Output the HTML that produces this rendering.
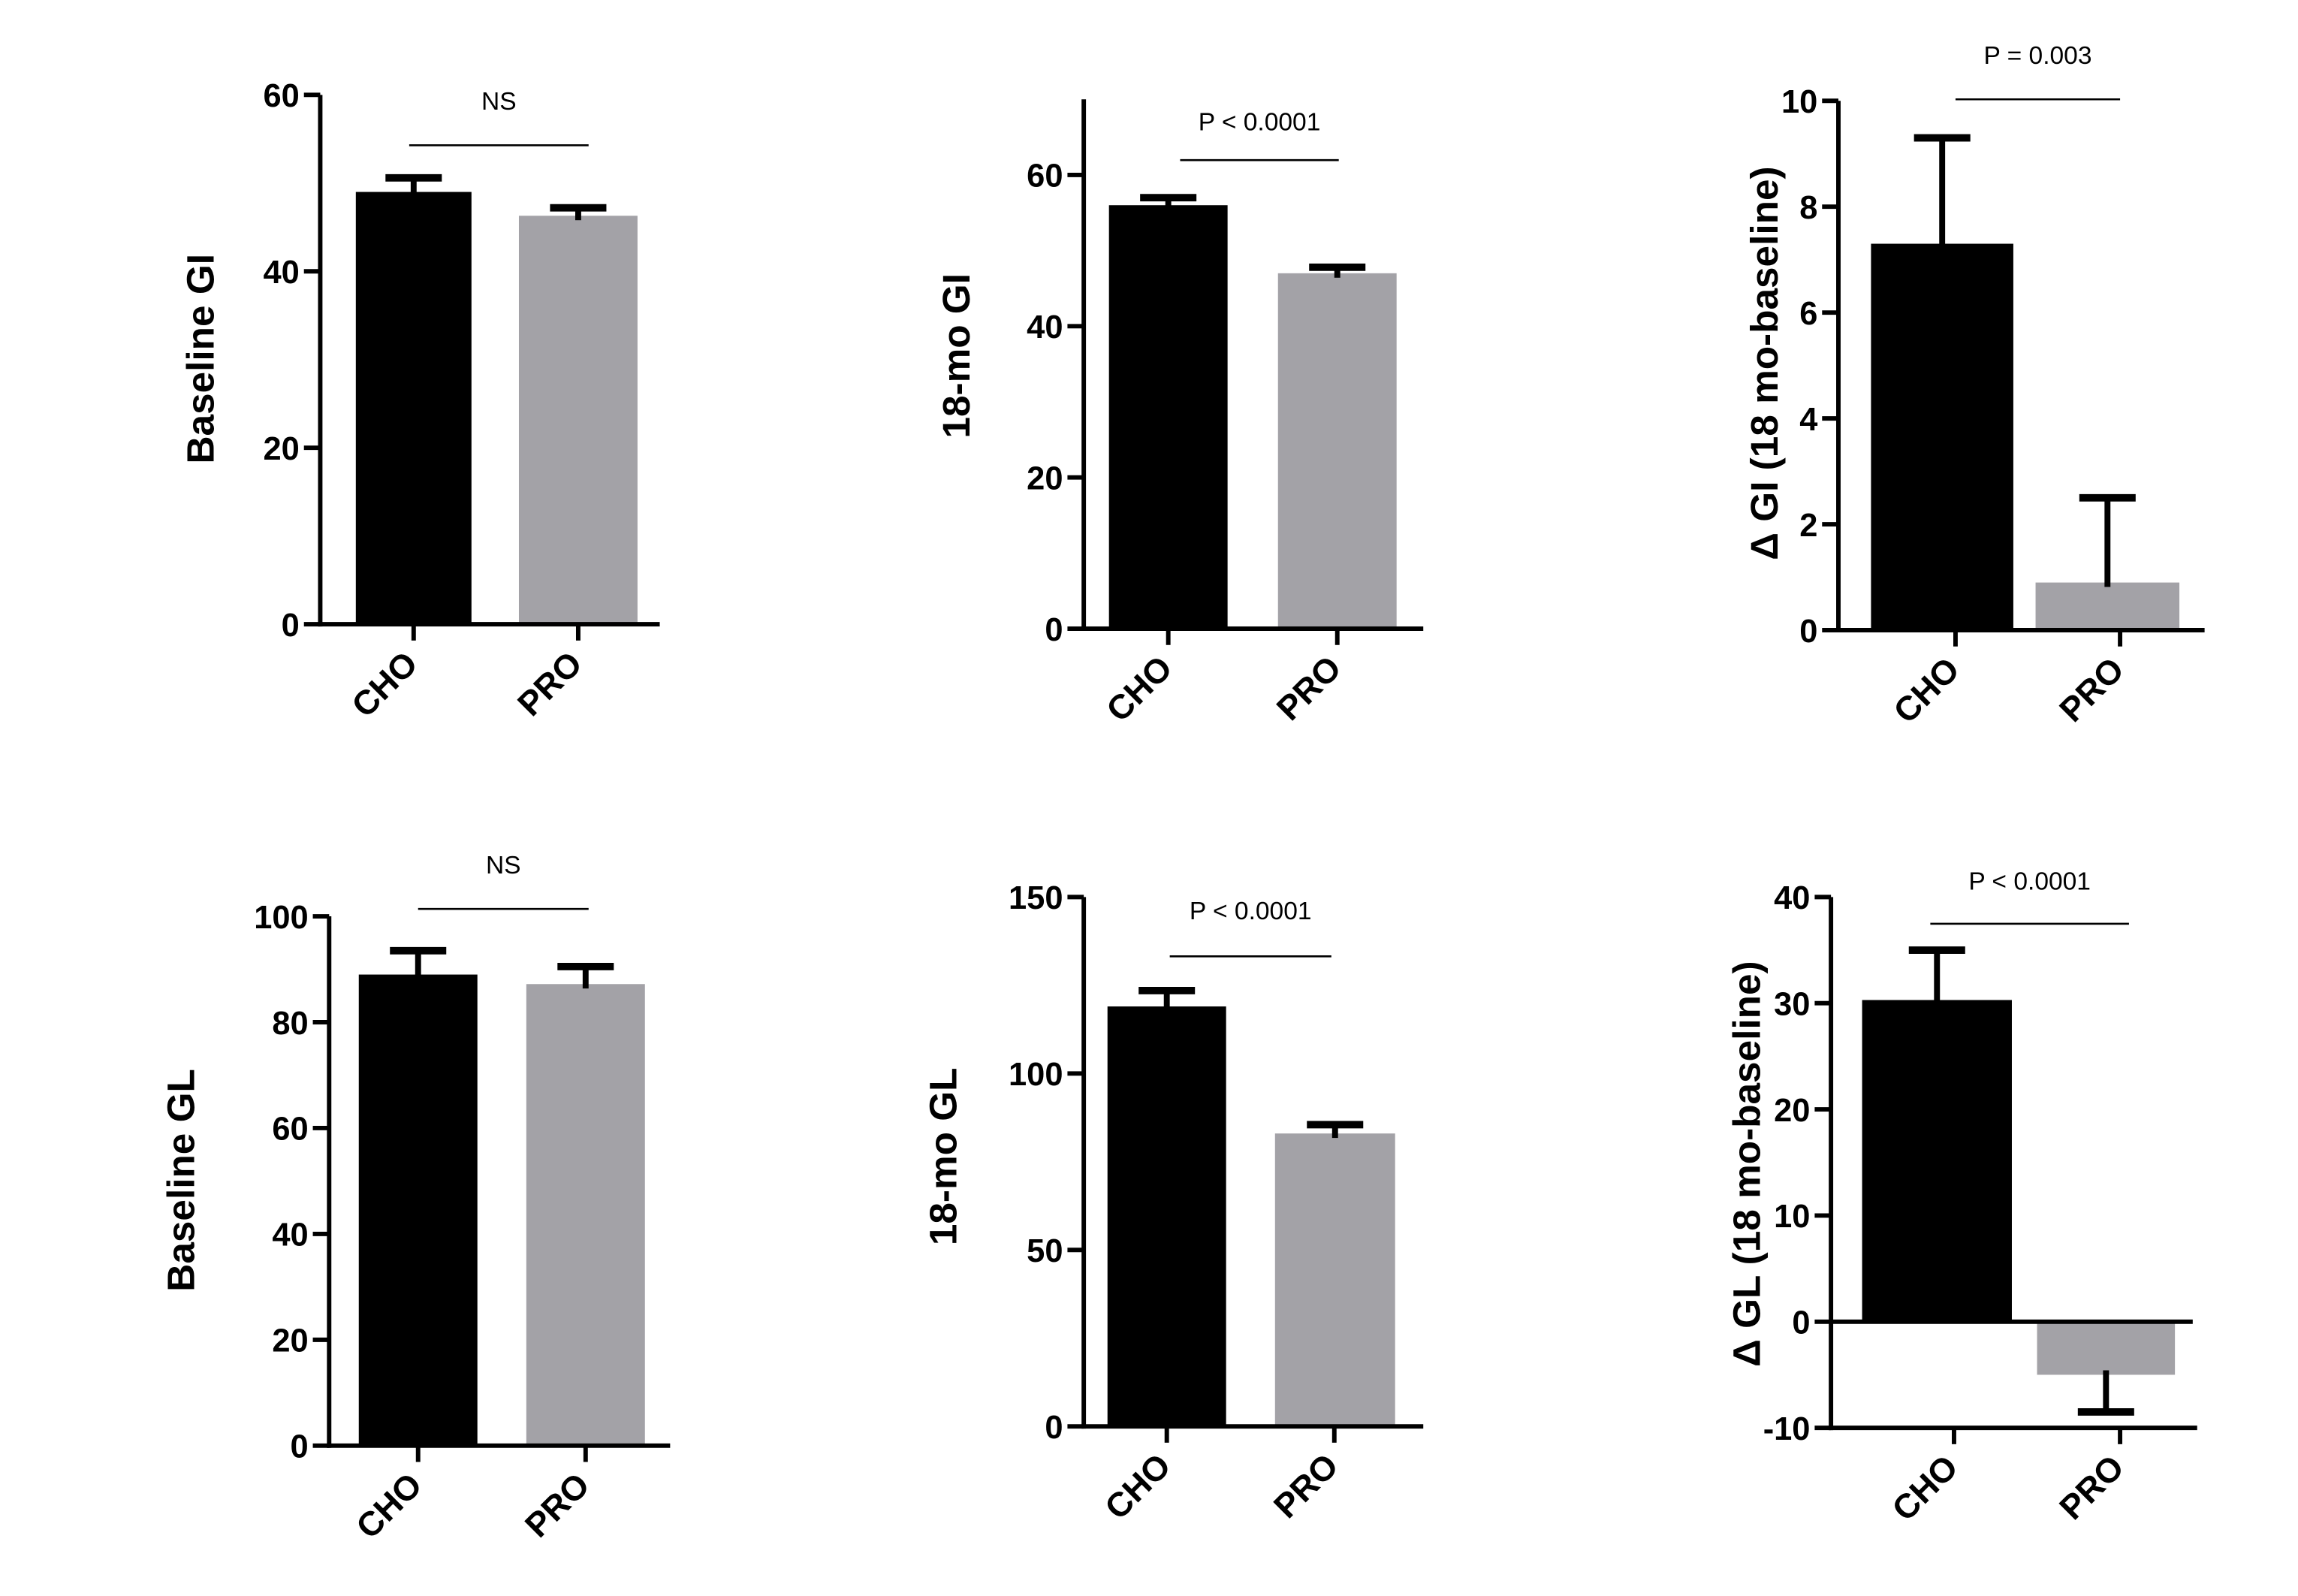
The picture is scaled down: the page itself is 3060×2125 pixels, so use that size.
<!DOCTYPE html>
<html><head><meta charset="utf-8"><style>
html,body{margin:0;padding:0;background:#fff;}
svg{display:block;}
text{font-family:"Liberation Sans",Arial,sans-serif;}
</style></head><body>
<svg id="fig" width="3060" height="2125" viewBox="0 0 1550 1076.4" xmlns="http://www.w3.org/2000/svg"></svg>
<script>
const categories = ["CHO", "PRO"];
const p1Values = [49, 46.3], p1Errors = [1.6, 0.9];
const p2Values = [56, 47], p2Errors = [1.0, 0.8];
const p3Values = [7.3, 0.9], p3Errors = [2.0, 1.6];
const p4Values = [89, 87.2], p4Errors = [4.5, 3.3];
const p5Values = [119, 83], p5Errors = [4.5, 2.5];
const p6Values = [30.3, -5], p6Errors = [4.7, 3.5];
const p1Ticks = [0, 20, 40, 60], p2Ticks = [0, 20, 40, 60], p3Ticks = [0, 2, 4, 6, 8, 10];
const p4Ticks = [0, 20, 40, 60, 80, 100], p5Ticks = [0, 50, 100, 150], p6Ticks = [-10, 0, 10, 20, 30, 40];
const titles = ["Baseline GI", "18-mo GI", "\u0394 GI (18 mo-baseline)", "Baseline GL", "18-mo GL", "\u0394 GL (18 mo-baseline)"];
const sigLabels = ["NS", "P < 0.0001", "P = 0.003", "NS", "P < 0.0001", "P < 0.0001"];

const svg = document.getElementById('fig');
const NS = 'http://www.w3.org/2000/svg';
function mk(tag, attrs, parent) {
  const e = document.createElementNS(NS, tag);
  for (const k in attrs) e.setAttribute(k, attrs[k]);
  (parent || svg).appendChild(e);
  return e;
}
const panels = [
  {v:p1Values,e:p1Errors,t:p1Ticks,ax:216,x1:445,ymin:0,ymax:60,yTop:64,yBot:421,axTop:64,bars:[[240,318],[350,430]],ct:[279,390],sig:[276,397,98,68],yl:[135,242]},
  {v:p2Values,e:p2Errors,t:p2Ticks,ax:731,x1:960,ymin:0,ymax:60,yTop:118,yBot:424,axTop:67,bars:[[748,828],[862,942]],ct:[788,902],sig:[796,903,108,82],yl:[645,240]},
  {v:p3Values,e:p3Errors,t:p3Ticks,ax:1240,x1:1487,ymin:0,ymax:10,yTop:68,yBot:425,axTop:68,bars:[[1262,1358],[1373,1470]],ct:[1319,1430],sig:[1319,1430,67,37],yl:[1190,245]},
  {v:p4Values,e:p4Errors,t:p4Ticks,ax:222,x1:452,ymin:0,ymax:100,yTop:618,yBot:975,axTop:618,bars:[[242,322],[355,435]],ct:[282,395],sig:[282,397,613,583],yl:[122,796]},
  {v:p5Values,e:p5Errors,t:p5Ticks,ax:731,x1:960,ymin:0,ymax:150,yTop:605,yBot:962,axTop:605,bars:[[747,827],[860,941]],ct:[787,900],sig:[789,898,645,614],yl:[636,780]},
  {v:p6Values,e:p6Errors,t:p6Ticks,ax:1235,x1:1482,ymin:-10,ymax:40,yTop:605,yBot:963,axTop:605,bars:[[1256,1357],[1374,1467]],ct:[1318,1430],sig:[1302,1436,623,594],yl:[1178,785],zeroLine:true}
];
const colors = ["#000000", "#a3a2a7"];
panels.forEach((p, pi) => {
  const g = mk('g', {});
  
  
  const y = v => p.yBot - (v - p.ymin) / (p.ymax - p.ymin) * (p.yBot - p.yTop);
  const base = y(Math.max(0, p.ymin));
  // bars
  p.v.forEach((val, i) => {
    const [bx0, bx1] = p.bars[i];
    const yt = Math.min(y(val), base), yb = Math.max(y(val), base);
    const r = mk('rect', {x: bx0, y: yt, width: bx1 - bx0, height: yb - yt, fill: colors[i]}, g);
    
    
    const cx = (bx0 + bx1) / 2;
    const ye = val >= 0 ? y(val + p.e[i]) : y(val - p.e[i]);
    const inner = val >= 0 ? y(val) + 3 : y(val) - 3;
    const eg = mk('g', {stroke: '#000', 'stroke-width': 4}, g);
    
    
    mk('line', {x1: cx, x2: cx, y1: inner, y2: ye}, eg);
    mk('line', {x1: cx - 19, x2: cx + 19, y1: ye, y2: ye, 'stroke-width': 5}, eg);
  });
  // axes
  const ya = mk('line', {x1: p.ax, x2: p.ax, y1: p.axTop, y2: p.yBot + 1.5, stroke: '#000', 'stroke-width': 3}, g);
  
  
  const xa = mk('line', {x1: p.ax - 1.5, x2: p.x1, y1: p.yBot, y2: p.yBot, stroke: '#000', 'stroke-width': 3}, g);
  
  
  if (p.zeroLine) {
    const zl = mk('line', {x1: p.ax, x2: p.x1 - 3, y1: y(0), y2: y(0), stroke: '#000', 'stroke-width': 3}, g);
    
    
  }
  p.t.forEach(tv => {
    const ty = y(tv);
    mk('line', {x1: p.ax - 11, x2: p.ax, y1: ty, y2: ty, stroke: '#000', 'stroke-width': 3}, g);
    const tl = mk('text', {x: p.ax - 14, y: ty + 8, 'text-anchor': 'end', 'font-size': 22, 'font-weight': 'bold'}, g);
    tl.textContent = tv;
    
    
  });
  categories.forEach((c, i) => {
    const cx = p.ct[i];
    mk('line', {x1: cx, x2: cx, y1: p.yBot, y2: p.yBot + 11, stroke: '#000', 'stroke-width': 3}, g);
    const cl = mk('text', {x: 0, y: 0, 'text-anchor': 'end', 'font-size': 23, 'font-weight': 'bold', transform: 'translate(' + (cx + 4) + ',' + (p.yBot + 28) + ') rotate(-45)'}, g);
    cl.textContent = c;
    
    
  });
  // significance
  const [sx0, sx1, sy, ty] = p.sig;
  const sl = mk('line', {x1: sx0, x2: sx1, y1: sy, y2: sy, stroke: '#000', 'stroke-width': 1.3}, g);
  
  
  const st = mk('text', {x: (sx0 + sx1) / 2, y: ty + 6, 'text-anchor': 'middle', 'font-size': 17}, g);
  st.textContent = sigLabels[pi];
  
  
  // y title
  const yt = mk('text', {x: 0, y: 0, 'text-anchor': 'middle', 'font-size': 26, 'font-weight': 'bold', transform: 'translate(' + (p.yl[0] + 9) + ',' + p.yl[1] + ') rotate(-90)'}, g);
  yt.textContent = titles[pi];
  
  
});
</script>
</body></html>
